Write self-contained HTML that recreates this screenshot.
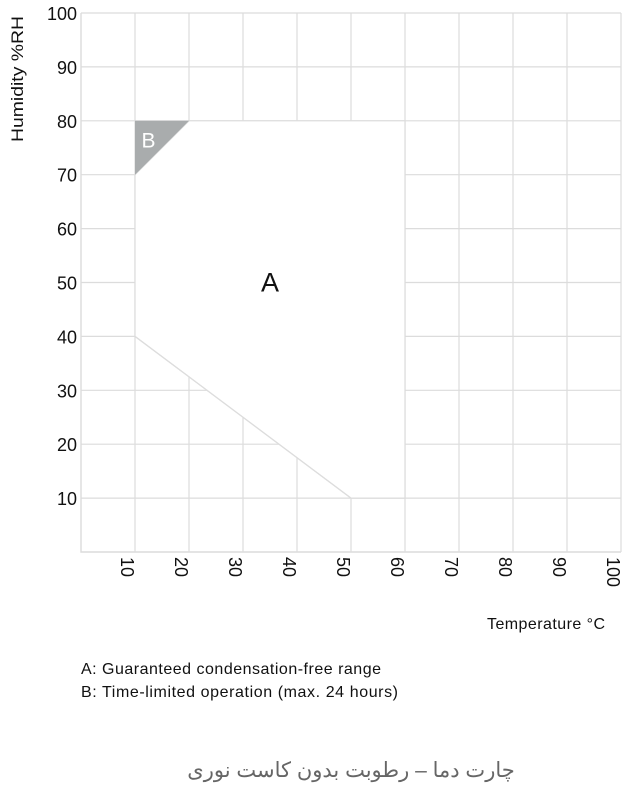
<!DOCTYPE html>
<html><head><meta charset="utf-8">
<style>
html,body{margin:0;padding:0;background:#fff;width:635px;height:805px;overflow:hidden}
svg{display:block;font-family:"Liberation Sans",sans-serif}
</style></head>
<body>
<svg id="chart" width="635" height="805" viewBox="0 0 635 805">
<g id="grid"></g>
<g id="regions"></g>
<g id="yticks"></g>
<g id="xticks"></g>
<text transform="translate(23,79) rotate(-90)" text-anchor="middle" font-size="17" fill="#111" textLength="126" lengthAdjust="spacingAndGlyphs">Humidity %RH</text>
<text x="605" y="629" text-anchor="end" font-size="16" fill="#111" textLength="118">Temperature °C</text>
<text x="81" y="674" font-size="16" fill="#111" textLength="300">A: Guaranteed condensation-free range</text>
<text x="81" y="697" font-size="16" fill="#111" textLength="317">B: Time-limited operation (max. 24 hours)</text>
<text x="351" y="777" text-anchor="middle" font-size="21" fill="#666" font-family="'Liberation Sans','Noto Sans CJK SC','WenQuanYi Zen Hei',sans-serif" direction="rtl">چارت دما – رطوبت بدون کاست نوری</text>
</svg>
<script>
const xTicks=[10,20,30,40,50,60,70,80,90,100];
const yTicks=[10,20,30,40,50,60,70,80,90,100];
const regionA_T=[10,10,20,60,60,50];
const regionA_H=[40,70,80,80,10,10];
const regionB_T=[10,10,20];
const regionB_H=[70,80,80];
const boundaryT=[10,50];
const boundaryH=[40,10];
const labelA=[35,50];
const labelB=[12.5,76.5];

const NS="http://www.w3.org/2000/svg";
const x0=81,x1=621,y0=552,y1=13;
const sx=t=>x0+(t/100)*(x1-x0);
const sy=h=>y0-(h/100)*(y0-y1);
function mk(tag,attrs,parent){const e=document.createElementNS(NS,tag);for(const k in attrs)e.setAttribute(k,attrs[k]);parent.appendChild(e);return e;}
const grid=document.getElementById('grid');
const GC="#dcdcdc";
xTicks.forEach(t=>{
  const l=mk('line',{x1:sx(t),x2:sx(t),y1:y1,y2:y0,stroke:GC,'stroke-width':1.2},grid);
  
  
});
yTicks.forEach(h=>{
  const l=mk('line',{x1:x0,x2:x1,y1:sy(h),y2:sy(h),stroke:GC,'stroke-width':1.2},grid);
  
  
});
const ax=mk('path',{d:`M${x0},${y1}V${y0}H${x1}`,fill:'none',stroke:GC,'stroke-width':1.4},grid);



const reg=document.getElementById('regions');
const ptsA=regionA_T.map((t,i)=>sx(t)+','+sy(regionA_H[i])).join(' ');
const pa=mk('polygon',{points:ptsA,fill:'#fff',stroke:GC,'stroke-width':1.2},reg);


const ptsB=regionB_T.map((t,i)=>sx(t)+','+sy(regionB_H[i])).join(' ');
const pb=mk('polygon',{points:ptsB,fill:'#a9acad'},reg);


const bl=mk('line',{x1:sx(boundaryT[0]),y1:sy(boundaryH[0]),x2:sx(boundaryT[1]),y2:sy(boundaryH[1]),stroke:'#dddddd','stroke-width':1.2},reg);


const ta=mk('text',{x:sx(labelA[0]),y:sy(labelA[1])+9,'text-anchor':'middle','font-size':27,fill:'#111'},reg);
ta.textContent='A';


const tb=mk('text',{x:sx(labelB[0]),y:sy(labelB[1])+8,'text-anchor':'middle','font-size':21,fill:'#fff'},reg);
tb.textContent='B';



const yt=document.getElementById('yticks');
yTicks.forEach(h=>{
  const t=mk('text',{x:77,y:sy(h)+7,'text-anchor':'end','font-size':18,fill:'#111'},yt);
  t.textContent=h;
  
  
});
const xt=document.getElementById('xticks');
xTicks.forEach(v=>{
  const t=mk('text',{transform:`translate(${sx(v)-14},${y0+5}) rotate(90)`,'font-size':18,fill:'#111'},xt);
  t.textContent=v;
  
  
});
</script>
</body></html>
